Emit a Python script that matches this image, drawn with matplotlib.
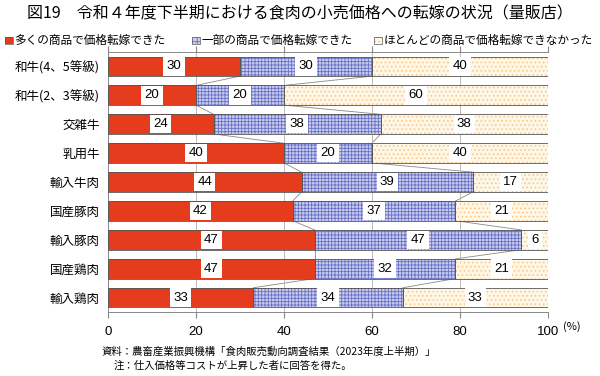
import matplotlib
matplotlib.use("Agg")
import matplotlib.pyplot as plt
import numpy as np
from matplotlib.patches import Rectangle

plt.rcParams['font.family'] = ['Noto Sans CJK JP', 'DejaVu Sans']
plt.rcParams['hatch.linewidth'] = 0.6

categories = ["和牛(4、5等級)", "和牛(2、3等級)", "交雑牛", "乳用牛", "輸入牛肉",
              "国産豚肉", "輸入豚肉", "国産鶏肉", "輸入鶏肉"]
many = [30, 20, 24, 40, 44, 42, 47, 47, 33]
some = [30, 20, 38, 20, 39, 37, 47, 32, 34]
none = [40, 60, 38, 40, 17, 21, 6, 21, 33]
series_names = ["多くの商品で価格転嫁できた", "一部の商品で価格転嫁できた", "ほとんどの商品で価格転嫁できなかった"]
xticks = [0, 20, 40, 60, 80, 100]

num_font = ['Liberation Sans', 'DejaVu Sans']

fig = plt.figure(figsize=(6, 3.76), dpi=100)
ax = fig.add_axes([0.18, 0.170, 0.733, 0.692])

y = np.arange(len(categories))
h = 0.68
data = [np.array(many), np.array(some), np.array(none)]
faces = ['#E63C1E', '#C9CDF0', '#FFF6E4']
hatch_cols = ['#E63C1E', '#6870C4', '#F3C48E']
hatches = [None, '+++++', '....']
left = np.zeros(len(categories))
for k, vals in enumerate(data):
    if hatches[k]:
        ax.barh(y, vals, left=left, height=h, color=faces[k], edgecolor=hatch_cols[k],
                hatch=hatches[k], linewidth=0, zorder=2)
    else:
        ax.barh(y, vals, left=left, height=h, color=faces[k], linewidth=0, zorder=2)
    ax.barh(y, vals, left=left, height=h, fill=False, edgecolor='#555555', linewidth=0.6, zorder=3)
    for i, v in enumerate(vals):
        ax.text(left[i] + v / 2, y[i], str(v), ha='center', va='center', fontsize=9.5,
                family=num_font, zorder=5,
                bbox=dict(boxstyle='square,pad=0.25', fc='white', ec='none'))
    left = left + vals

# series lines
cum1 = np.array(many)
cum2 = cum1 + np.array(some)
for cum in (cum1, cum2):
    for i in range(len(categories) - 1):
        ax.plot([cum[i], cum[i + 1]], [y[i] + h / 2, y[i + 1] - h / 2], color='#888888',
                linewidth=0.6, zorder=1)

ax.set_xlim(0, 100)
ax.set_ylim(len(categories) - 0.5, -0.5)
ax.set_xticks(xticks)
ax.set_xticklabels([str(t) for t in xticks], fontsize=9.5, family=num_font)
ax.set_yticks(y)
ax.set_yticklabels(categories, fontsize=9)
ax.tick_params(axis='y', length=0, pad=6)
ax.tick_params(axis='x', length=4, color='#888888', top=True, bottom=True, direction='out', pad=6)
ax.grid(axis='x', color='#BBBBBB', linewidth=0.7, zorder=0)
ax.spines['right'].set_visible(False)
for s in ['left', 'top', 'bottom']:
    ax.spines[s].set_color('#888888')
    ax.spines[s].set_linewidth(0.7)

fig.text(563 / 600, 1 - 327 / 376, "(%)", fontsize=8, ha='left', va='center')

fig.text(0.5, 1 - 14 / 376, "図19　令和４年度下半期における食肉の小売価格への転嫁の状況（量販店）",
         ha='center', va='center', fontsize=11.5)

# legend
lx = [5, 192, 374]
ly = 1 - 40 / 376
for k in range(3):
    x0 = lx[k] / 600
    r = Rectangle((x0, ly - 0.011), 0.0125, 0.02, transform=fig.transFigure,
                  facecolor=faces[k], edgecolor=hatch_cols[k],
                  hatch=('+++' if k == 1 else hatches[k]), linewidth=0)
    fig.patches.append(r)
    r2 = Rectangle((x0, ly - 0.011), 0.0125, 0.02, transform=fig.transFigure,
                   fill=False, edgecolor='#555555', linewidth=0.5)
    fig.patches.append(r2)
    fig.text(x0 + 0.016, ly, series_names[k], ha='left', va='center', fontsize=8.4)

fig.text(102 / 600, 1 - 352 / 376, "資料：農畜産業振興機構「食肉販売動向調査結果（2023年度上半期）」",
         ha='left', va='center', fontsize=7.5)
fig.text(114 / 600, 1 - 366 / 376, "注：仕入価格等コストが上昇した者に回答を得た。",
         ha='left', va='center', fontsize=7.5)

fig.savefig("out.png", dpi=100)
